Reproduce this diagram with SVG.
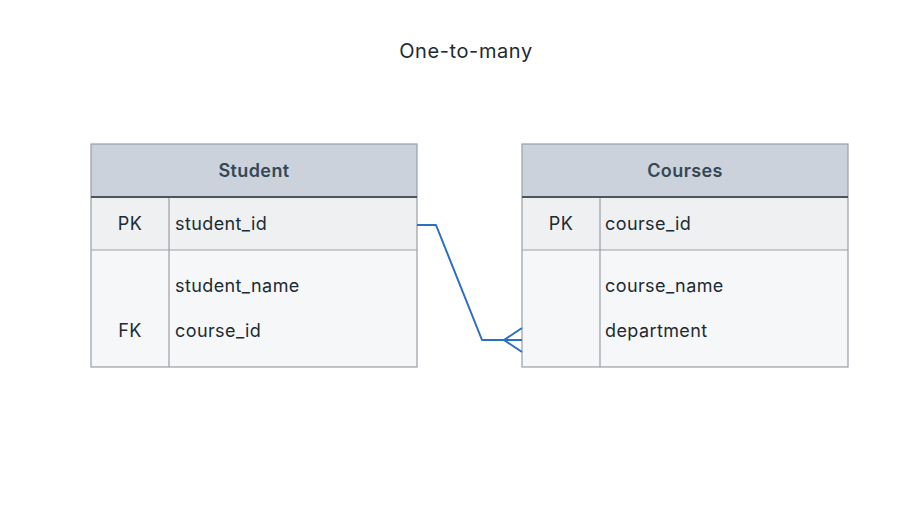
<svg xmlns="http://www.w3.org/2000/svg" width="922" height="505" viewBox="0 0 922 505">
<style>
text{font-family:Inter,"Open Sans","Liberation Sans",sans-serif;fill:#1c2b33;font-size:18px;letter-spacing:0.4px}
.title{font-size:20px;letter-spacing:0.6px;text-anchor:middle}
.hdr{font-weight:600;text-anchor:middle;fill:#344854}
.key{text-anchor:middle}
.box{stroke:#9a9fa5;stroke-width:1.2}
.hfill{fill:#cbd2db}
.pkfill{fill:#eef0f2}
.bfill{fill:#f6f7f9}
.hline{stroke:#4a5560;stroke-width:2}
.line{stroke:#9a9fa5;stroke-width:1.2}
.conn{fill:none;stroke:#2b6fc6;stroke-width:2;stroke-linejoin:round}
</style>
<rect width="922" height="505" fill="#ffffff"/>
<text class="title" x="466" y="58">One-to-many</text>
<g id="student">
<rect class="hfill" x="91" y="144" width="326" height="53"/>
<rect class="pkfill" x="91" y="197" width="326" height="53"/>
<rect class="bfill" x="91" y="250" width="326" height="117"/>
<rect class="box" x="91" y="144" width="326" height="223" fill="none"/>
<line class="line" x1="169" y1="197" x2="169" y2="367"/>
<line class="line" x1="91" y1="250" x2="417" y2="250"/>
<line class="hline" x1="91" y1="197" x2="417" y2="197"/>
<text class="hdr" x="254" y="177">Student</text>
<text class="key" x="130" y="230">PK</text>
<text x="175" y="230">student_id</text>
<text x="175" y="292">student_name</text>
<text class="key" x="130" y="337">FK</text>
<text x="175" y="337">course_id</text>
</g>
<g id="courses">
<rect class="hfill" x="522" y="144" width="326" height="53"/>
<rect class="pkfill" x="522" y="197" width="326" height="53"/>
<rect class="bfill" x="522" y="250" width="326" height="117"/>
<rect class="box" x="522" y="144" width="326" height="223" fill="none"/>
<line class="line" x1="600" y1="197" x2="600" y2="367"/>
<line class="line" x1="522" y1="250" x2="848" y2="250"/>
<line class="hline" x1="522" y1="197" x2="848" y2="197"/>
<text class="hdr" x="685" y="177">Courses</text>
<text class="key" x="561" y="230">PK</text>
<text x="605" y="230">course_id</text>
<text x="605" y="292">course_name</text>
<text x="605" y="337">department</text>
</g>
<g id="connectors">
<polyline class="conn" points="417,225 436,225 482,340 522,340"/>
<polyline class="conn" points="522,328 504,340 522,352"/>
</g>
</svg>
